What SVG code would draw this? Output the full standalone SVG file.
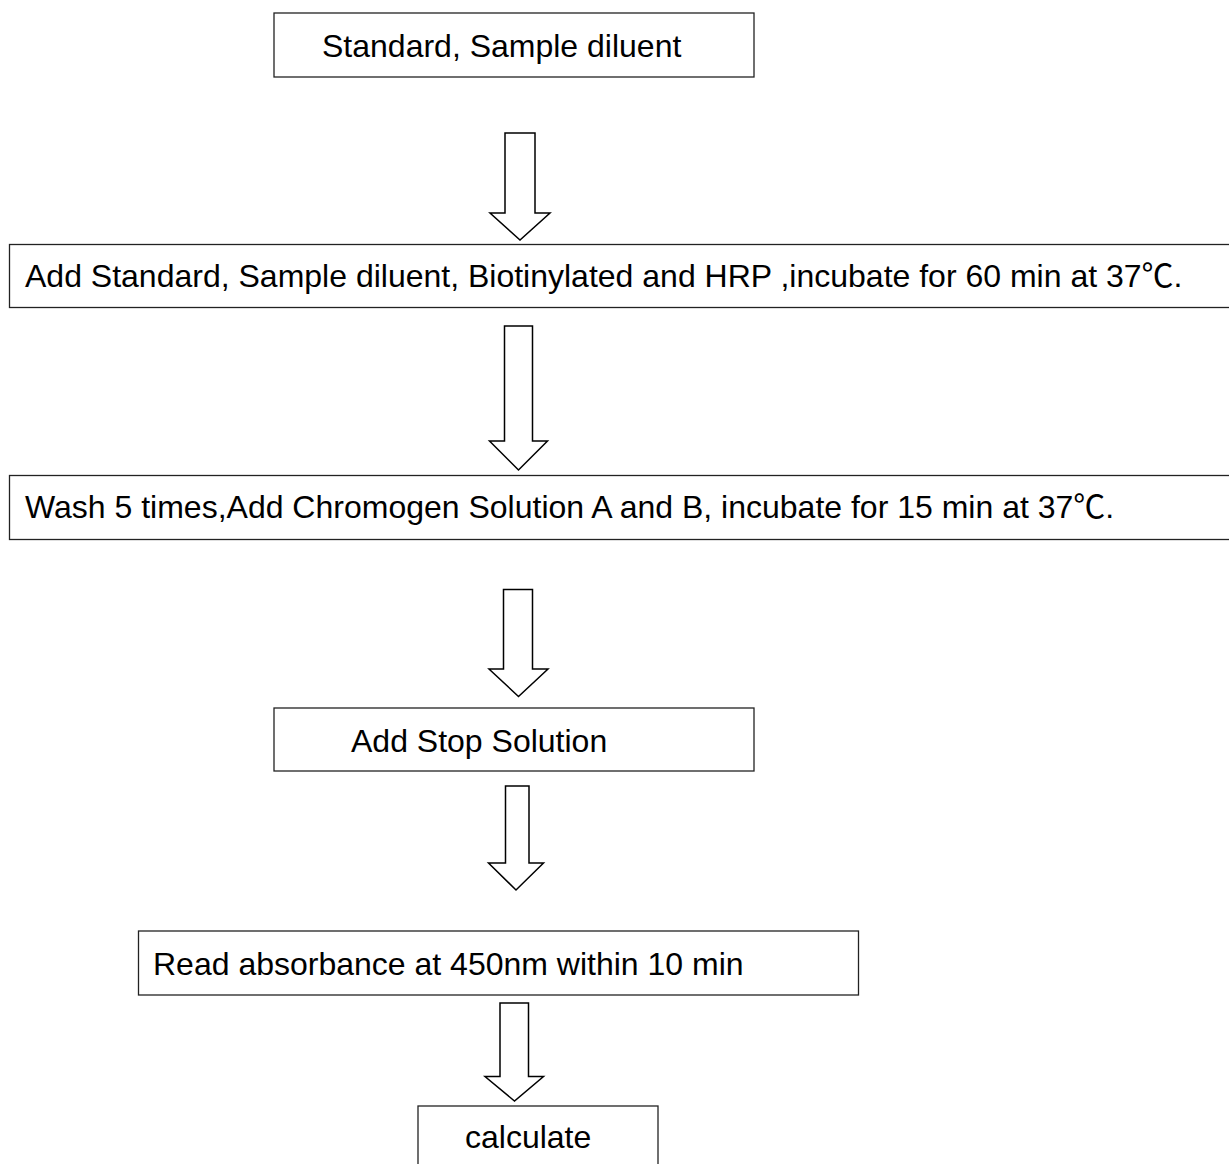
<svg xmlns="http://www.w3.org/2000/svg" width="1229" height="1164" viewBox="0 0 1229 1164">
<style>
.box{fill:#fff;stroke:#222;stroke-width:1.3}
.arr{fill:#fff;stroke:#000;stroke-width:1.5;stroke-linejoin:miter}
.t{font-family:"Liberation Sans","Noto Sans CJK SC",Arial,sans-serif;font-size:32px;fill:#000}
</style>
<rect width="1229" height="1164" fill="#fff"/>
<g id="connectors">
<path class="arr" d="M505,133 H535 V213 H550 L520,240 L490,213 H505 Z"/>
<path class="arr" d="M504.5,326 H532.5 V441 H547.5 L518.5,470 L489.5,441 H504.5 Z"/>
<path class="arr" d="M503.5,589.5 H532.5 V669 H548 L518.5,696.5 L489,669 H503.5 Z"/>
<path class="arr" d="M505.5,786 H529 V863 H543.5 L516,890 L488.5,863 H505.5 Z"/>
<path class="arr" d="M500,1003 H528.5 V1076.5 H543.5 L514.5,1101 L485,1076.5 H500 Z"/>
</g>
<g id="n1">
<rect class="box" x="274" y="13" width="480" height="64"/>
<text class="t" x="322" y="57">Standard, Sample diluent</text>
</g>
<g id="n2">
<rect class="box" x="9.5" y="244.5" width="1240" height="63"/>
<text class="t" x="25" y="287">Add Standard, Sample diluent, Biotinylated and HRP ,incubate for 60 min at 37℃.</text>
</g>
<g id="n3">
<rect class="box" x="9.5" y="475.5" width="1240" height="64"/>
<text class="t" x="25" y="518">Wash 5 times,Add Chromogen Solution A and B, incubate for 15 min at 37℃.</text>
</g>
<g id="n4">
<rect class="box" x="274" y="708" width="480" height="63"/>
<text class="t" x="351" y="752">Add Stop Solution</text>
</g>
<g id="n5">
<rect class="box" x="138.5" y="931" width="720" height="64"/>
<text class="t" x="153" y="975">Read absorbance at 450nm within 10 min</text>
</g>
<g id="n6">
<rect class="box" x="418" y="1106" width="240" height="80"/>
<text class="t" x="465" y="1148">calculate</text>
</g>
</svg>
